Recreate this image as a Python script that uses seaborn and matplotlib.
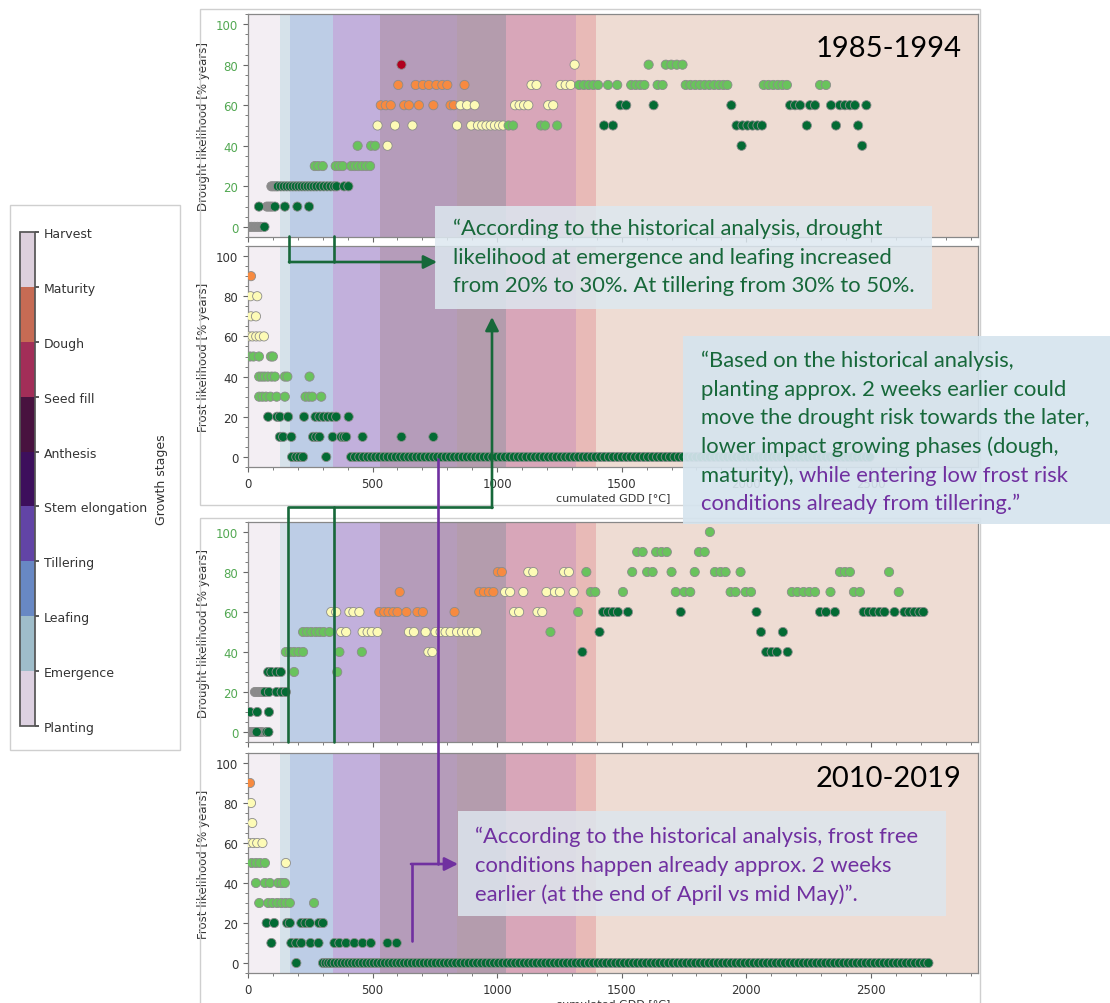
import matplotlib
matplotlib.use("Agg")
import matplotlib.pyplot as plt
import pandas as pd
import seaborn as sns
from matplotlib.colors import ListedColormap, BoundaryNorm
from matplotlib.cm import ScalarMappable
from matplotlib.patches import Rectangle
from matplotlib.ticker import MultipleLocator, AutoMinorLocator

# growth stages (colorbar) and where they start on the GDD axis
stages = ["Planting", "Emergence", "Leafing", "Tillering", "Stem elongation",
          "Anthesis", "Seed fill", "Dough", "Maturity", "Harvest"]
stage_start = [0, 128, 170, 341, 528, 840, 1036, 1318, 1397]
stage_colors = ["#ddd1e1", "#9fbdca", "#6888c4", "#6244a6", "#3d0f5c",
                "#48123f", "#a22e58", "#c66b54", "#ddd0dd"]
band_colors = ["#f3eef3", "#d6e2ea", "#bdcde6", "#c2b0dc", "#b59cba",
               "#b49cad", "#d8a6b9", "#e8bab7", "#eedcd3"]

risk_colors = {"none": "#8a8a8a", "low": "#036b34", "mod": "#69c35c",
               "elev": "#fdfbb6", "high": "#f78a40", "sev": "#b0001e"}

# rows of points: (likelihood %, risk class, cumulated GDD of each point)
drought_1985 = [
    (0, "none", [3, 14, 26, 38, 50]),
    (0, "low", [66]),
    (10, "none", [76, 86, 96]),
    (10, "low", [44, 108, 148, 198, 245]),
    (20, "none", [94, 103, 112]),
    (20, "low", [120, 132, 144, 156, 168, 180, 192, 204, 216, 228, 240, 252,
                 264, 276, 290, 304, 318, 332, 346, 356, 386, 403]),
    (30, "mod", [268, 282, 300, 352, 366, 380, 414, 428, 442, 458, 474, 490]),
    (40, "mod", [440, 494, 510]),
    (40, "elev", [560]),
    (40, "low", [1981, 2465]),
    (50, "elev", [520, 590, 660, 839, 896, 923, 940, 957, 974, 991, 1008, 1024]),
    (50, "mod", [1046, 1064, 1176, 1192, 1241]),
    (50, "low", [1429, 1465, 1961, 1985, 2005, 2025, 2045, 2063, 2243, 2360, 2449]),
    (60, "high", [533, 553, 573, 627, 646, 686, 744, 813, 826]),
    (60, "elev", [853, 879, 910, 1072, 1090, 1108, 1125, 1205, 1225]),
    (60, "low", [1495, 1518, 1628, 1940, 2176, 2196, 2216, 2256, 2276, 2340,
                 2376, 2396, 2416, 2436, 2482]),
    (70, "high", [603, 673, 702, 726, 756, 780, 800, 869]),
    (70, "elev", [1138, 1158, 1255, 1275, 1295]),
    (70, "mod", [1329, 1348, 1367, 1386, 1405, 1445, 1482, 1538, 1556, 1574, 1591,
                 1644, 1664, 1757, 1776, 1795, 1814, 1833, 1852, 1871, 1890, 1908,
                 1924, 2070, 2089, 2108, 2127, 2145, 2163, 2296, 2320]),
    (80, "sev", [616]),
    (80, "elev", [1311]),
    (80, "mod", [1608, 1677, 1699, 1721, 1744]),
]

frost_1985 = [
    (90, "high", [12]),
    (80, "elev", [10, 37]),
    (70, "elev", [12, 32]),
    (60, "elev", [5, 18, 33, 47, 64]),
    (50, "mod", [8, 22, 44, 92, 100]),
    (40, "mod", [45, 56, 67, 80, 95, 108, 148, 158, 247]),
    (30, "mod", [45, 58, 72, 90, 115, 148, 231, 245, 258, 294]),
    (20, "low", [81, 117, 128, 161, 225, 271, 287, 303, 320, 337, 354, 404]),
    (10, "low", [128, 141, 174, 261, 274, 287, 340, 374, 384, 394, 460, 616, 744]),
    (0, "low", [177, 194, 207, 221, 314,
                414, 430, 447, 463, 480, 496, 512, 528, 545, 561, 578, 594, 611,
                627, 644, 660, 677, 693, 710, 727, 744, 760, 777, 794, 811, 828,
                845, 862, 879, 896, 913, 930, 947, 964, 981, 998, 1015, 1032, 1050,
                1067, 1084, 1101, 1118, 1136, 1153, 1170, 1187, 1205, 1222, 1239,
                1257, 1274, 1291, 1309, 1326, 1344, 1361, 1379, 1396, 1414, 1431,
                1449, 1466, 1484, 1501, 1519, 1536, 1554, 1571, 1589, 1606, 1624,
                1642, 1659, 1677, 1694, 1712, 1730, 1747, 1765, 1783, 1800, 1818,
                1836, 1853, 1871, 1889, 1906, 1924, 1942, 1960, 1977, 1995, 2013,
                2031, 2049, 2066, 2084, 2102, 2120, 2138, 2156, 2174, 2192, 2210,
                2228, 2246, 2264, 2282, 2300, 2318, 2336, 2354, 2372, 2390, 2408,
                2426, 2444, 2462, 2480, 2495]),
]

drought_2010 = [
    (0, "none", [3, 14, 25, 46, 56]),
    (0, "low", [35, 75, 82]),
    (10, "low", [8, 37, 84]),
    (20, "none", [28, 40, 52, 64]),
    (20, "low", [68, 84, 115, 135, 152]),
    (30, "low", [81, 94, 115, 132]),
    (30, "mod", [185, 358]),
    (40, "mod", [152, 168, 185, 203, 221, 367, 457]),
    (40, "elev", [724, 740]),
    (40, "low", [1342, 2080, 2102, 2123, 2166]),
    (50, "mod", [221, 237, 254, 272, 288, 304, 327, 1214]),
    (50, "elev", [374, 394, 460, 480, 497, 520, 646, 666, 713, 753, 773, 793, 813,
                  839, 859, 879, 899, 919]),
    (50, "low", [1411, 2059, 2147]),
    (60, "elev", [334, 354, 407, 423, 447, 1068, 1088, 1162, 1181]),
    (60, "high", [527, 547, 564, 583, 600, 636, 680, 702, 829]),
    (60, "mod", [1325]),
    (60, "low", [1425, 1445, 1465, 1485, 1525, 1737, 2041, 2296, 2320, 2356, 2471,
                 2492, 2512, 2535, 2555, 2595, 2635, 2655, 2675, 2695, 2711]),
    (70, "high", [609, 928, 947, 967, 985]),
    (70, "elev", [1032, 1052, 1105, 1198, 1232, 1252, 1307]),
    (70, "mod", [1376, 1394, 1505, 1717, 1751, 1775, 1937, 1957, 1997, 2019, 2183,
                 2205, 2230, 2253, 2276, 2338, 2432, 2456, 2612]),
    (80, "high", [1003, 1019]),
    (80, "elev", [1125, 1145, 1269, 1288]),
    (80, "mod", [1358, 1542, 1602, 1624, 1700, 1793, 1874, 1897, 1917, 1977, 2376,
                 2396, 2416, 2573]),
    (90, "mod", [1562, 1584, 1638, 1660, 1681, 1810, 1833]),
    (100, "mod", [1854]),
]

frost_2010 = [
    (90, "high", [8]),
    (80, "elev", [12]),
    (70, "elev", [17]),
    (60, "elev", [5, 21, 37, 58]),
    (50, "mod", [15, 32, 48, 68]),
    (50, "elev", [152]),
    (40, "mod", [32, 68, 88, 121, 135, 148]),
    (30, "mod", [45, 81, 98, 117, 134, 151, 168, 265]),
    (20, "low", [75, 105, 157, 168, 214, 231, 248, 285, 301]),
    (10, "low", [94, 174, 194, 214, 251, 283, 347, 367, 394, 427, 460, 493, 560, 597]),
    (0, "low", [194,
                301, 312, 323, 334, 348, 362, 376, 390, 404, 418, 432, 447, 461,
                476, 491, 505, 520, 535, 550, 565, 580, 596, 611, 627, 642, 658,
                674, 690, 706, 722, 738, 754, 771, 787, 803, 820, 836, 853, 870,
                886, 903, 920, 937, 954, 971, 988, 1005, 1022, 1039, 1056, 1073,
                1090, 1108, 1125, 1142, 1159, 1177, 1194, 1211, 1229, 1246, 1264,
                1281, 1299, 1316, 1334, 1351, 1369, 1386, 1404, 1422, 1439, 1457,
                1475, 1492, 1510, 1528, 1546, 1563, 1581, 1599, 1617, 1635, 1652,
                1670, 1688, 1706, 1724, 1742, 1760, 1778, 1796, 1814, 1832, 1850,
                1868, 1886, 1904, 1922, 1940, 1958, 1976, 1994, 2012, 2030, 2048,
                2066, 2084, 2102, 2120, 2138, 2156, 2174, 2192, 2210, 2228, 2246,
                2264, 2282, 2300, 2318, 2336, 2354, 2372, 2390, 2408, 2426, 2444,
                2462, 2480, 2498, 2516, 2534, 2552, 2570, 2588, 2606, 2624, 2642,
                2660, 2678, 2696, 2714, 2731]),
]

X_MAX = 2930
GREEN = "#17683a"
PURPLE = "#7030a0"
BOX_FONT = "Lato"

sns.set_theme(style="ticks")
plt.rcParams["font.family"] = ["DejaVu Sans"]


def to_frame(rows):
    recs = []
    for y, risk, xs in rows:
        for x in xs:
            recs.append((x, y, risk))
    return pd.DataFrame(recs, columns=["gdd", "likelihood", "risk"])


def draw_panel(ax, rows, ylabel, label_color, show_x):
    ends = stage_start[1:] + [X_MAX]
    for start, end, c in zip(stage_start, ends, band_colors):
        ax.axvspan(start, end, color=c, lw=0, zorder=0)
    df = to_frame(rows)
    sns.scatterplot(data=df, x="gdd", y="likelihood", hue="risk", palette=risk_colors,
                    s=44, edgecolor="#8c8c8c", linewidth=0.6, legend=False, ax=ax,
                    zorder=3)
    ax.set_xlim(0, X_MAX)
    ax.set_ylim(-5, 105)
    ax.xaxis.set_major_locator(MultipleLocator(500))
    ax.xaxis.set_minor_locator(MultipleLocator(100))
    ax.yaxis.set_major_locator(MultipleLocator(20))
    ax.yaxis.set_minor_locator(AutoMinorLocator())
    ax.tick_params(which="major", labelsize=8.5, length=3.5, width=0.8, color="#666")
    ax.tick_params(which="minor", length=2, width=0.6, color="#666")
    ax.tick_params(axis="y", labelcolor=label_color)
    ax.tick_params(axis="x", labelcolor="#333")
    ax.set_ylabel(ylabel, fontsize=8.5, color="#333")
    if show_x:
        ax.set_xlabel("cumulated GDD [°C]", fontsize=8, color="#333", labelpad=2)
    else:
        ax.set_xlabel("")
        ax.tick_params(axis="x", labelbottom=False)
    for sp in ax.spines.values():
        sp.set_color("#888")
        sp.set_linewidth(0.9)


W, H = 1110, 1004
fig = plt.figure(figsize=(W / 100, H / 100), dpi=100)


def px_axes(left, top, right, bottom):
    return fig.add_axes([left / W, 1 - bottom / H, (right - left) / W, (bottom - top) / H])


ax1 = px_axes(248, 15, 978, 238)
ax2 = px_axes(248, 247, 978, 468)
ax3 = px_axes(248, 523, 978, 743)
ax4 = px_axes(248, 754, 978, 974)

draw_panel(ax1, drought_1985, "Drought likelihood [% years]", "#52a852", False)
draw_panel(ax2, frost_1985, "Frost likelihood [% years]", "#333", True)
draw_panel(ax3, drought_2010, "Drought likelihood [% years]", "#52a852", False)
draw_panel(ax4, frost_2010, "Frost likelihood [% years]", "#333", True)

ax1.text(0.978, 0.812, "1985-1994", transform=ax1.transAxes, ha="right",
         va="baseline", fontsize=21, family=BOX_FONT, color="black", zorder=5)
ax4.text(0.978, 0.85, "2010-2019", transform=ax4.transAxes, ha="right",
         va="baseline", fontsize=21, family=BOX_FONT, color="black", zorder=5)

# growth stage colorbar
ax_cb = px_axes(20, 233, 35, 727)
cmap = ListedColormap(stage_colors)
norm = BoundaryNorm(list(range(10)), cmap.N)
cb = fig.colorbar(ScalarMappable(norm=norm, cmap=cmap), cax=ax_cb, ticks=list(range(10)))
cb.set_ticklabels(stages)
cb.ax.tick_params(labelsize=9, length=3, color="#444", labelcolor="#333")
cb.set_label("Growth stages", fontsize=9, color="#333", labelpad=6)
cb.outline.set_edgecolor("#555")

# overlay in pixel coordinates for frames, callouts and arrows
ov = fig.add_axes([0, 0, 1, 1], zorder=10)
ov.set_xlim(0, W)
ov.set_ylim(H, 0)
ov.axis("off")

for x0, y0, w, h in [(200, 10, 780, 496), (200, 519, 780, 500), (10, 206, 170, 545)]:
    ov.add_patch(Rectangle((x0, y0), w, h, fill=False, ec="#cfcfcf", lw=1))

arrow = dict(arrowstyle="-|>", lw=1.9, mutation_scale=20, shrinkA=0, shrinkB=0)

# green callout lines
ov.plot([289, 289], [237, 263], color=GREEN, lw=1.9)
ov.plot([334, 334], [237, 263], color=GREEN, lw=1.9)
ov.annotate("", xy=(437, 263), xytext=(289, 263), arrowprops=dict(arrow, color=GREEN))
ov.plot([288, 288, 492], [743, 508, 508], color=GREEN, lw=1.9)
ov.plot([334, 334], [743, 508], color=GREEN, lw=1.9)
ov.annotate("", xy=(492, 318), xytext=(492, 509), arrowprops=dict(arrow, color=GREEN))

# purple callout lines
ov.plot([438, 438], [460, 865], color=PURPLE, lw=1.9)
ov.plot([412, 412], [942, 865], color=PURPLE, lw=1.9)
ov.annotate("", xy=(458, 865), xytext=(411, 865), arrowprops=dict(arrow, color=PURPLE))

# text boxes
ov.add_patch(Rectangle((435, 207), 497, 103, fc="#dde8f0", ec="none", alpha=0.85))
ov.add_patch(Rectangle((683, 337), 427, 188, fc="#d6e4ee", ec="none", alpha=0.92))
ov.add_patch(Rectangle((458, 812), 488, 105, fc="#dde6ee", ec="none", alpha=0.85))

fs = 15.8
box_a = ["\u201cAccording to the historical analysis, drought",
         "likelihood at emergence and leafing increased",
         "from 20% to 30%. At tillering from 30% to 50%."]
for i, line in enumerate(box_a):
    ov.text(453, 235 + 28.7 * i, line, color=GREEN, fontsize=fs, family=BOX_FONT, va="baseline")

box_b = ["\u201cBased on the historical analysis,",
         "planting approx. 2 weeks earlier could",
         "move the drought risk towards the later,",
         "lower impact growing phases (dough,"]
for i, line in enumerate(box_b):
    ov.text(701, 367 + 28.7 * i, line, color=GREEN, fontsize=fs, family=BOX_FONT, va="baseline")
t5 = ov.text(701, 367 + 28.7 * 4, "maturity), ", color=GREEN, fontsize=fs,
             family=BOX_FONT, va="baseline")
ov.annotate("while entering low frost risk", xy=(1, 0), xycoords=t5, va="bottom",
            ha="left", color=PURPLE, fontsize=fs, family=BOX_FONT)
ov.text(701, 367 + 28.7 * 5, "conditions already from tillering.\u201d", color=PURPLE,
        fontsize=fs, family=BOX_FONT, va="baseline")

box_c = ["\u201cAccording to the historical analysis, frost free",
         "conditions happen already approx. 2 weeks",
         "earlier (at the end of April vs mid May)\u201d."]
for i, line in enumerate(box_c):
    ov.text(475, 843 + 29 * i, line, color=PURPLE, fontsize=fs, family=BOX_FONT, va="baseline")

fig.savefig("out.png", dpi=100)
